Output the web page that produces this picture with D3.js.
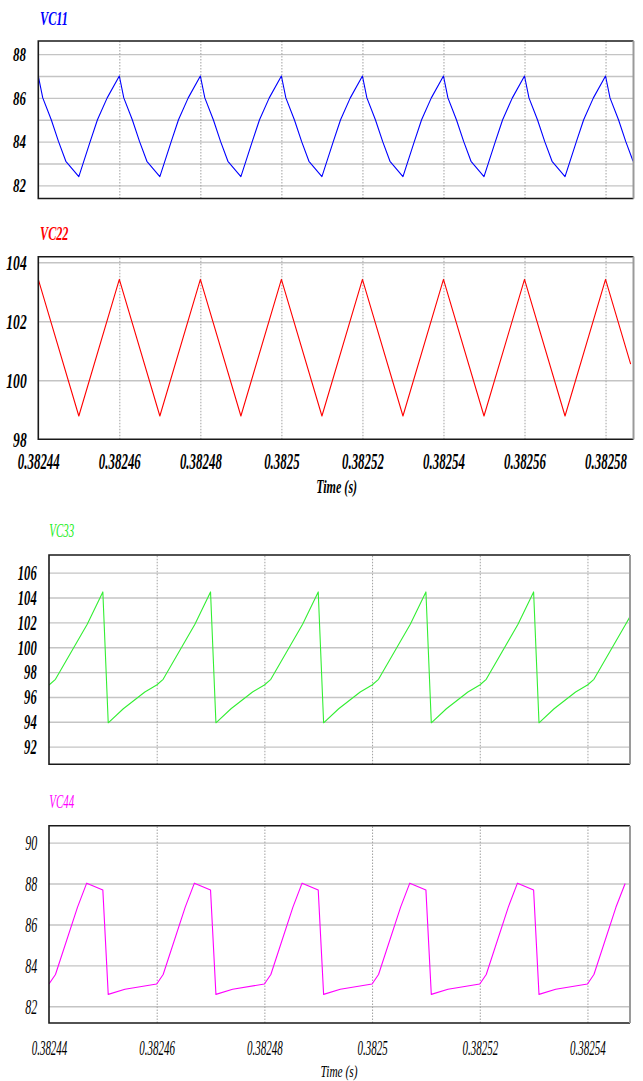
<!DOCTYPE html>
<html>
<head>
<meta charset="utf-8">
<script src="https://cdn.jsdelivr.net/npm/d3@7"></script>
<style>
  html, body { margin: 0; padding: 0; background: #fff; }
  svg { display: block; }
</style>
</head>
<body>
<svg id="chart" width="643" height="1081"></svg>
<script>
// ---------- time axis ticks ----------
const timeTicksUpper = [0.38244, 0.38246, 0.38248, 0.38250, 0.38252, 0.38254, 0.38256, 0.38258];
const timeTicksLower = [0.38244, 0.38246, 0.38248, 0.38250, 0.38252, 0.38254];
const timeRangeUpper = [0.38244, 0.3825869];
const timeRangeLower = [0.38244, 0.3825479];

// ---------- VC11 ----------
const vc11Time = [
  0.3824400, 0.3824411, 0.3824432, 0.3824450, 0.3824468, 0.3824500, 0.3824528, 0.3824546, 0.3824570,
  0.3824600, 0.3824611, 0.3824632, 0.3824650, 0.3824668, 0.3824700, 0.3824728, 0.3824746, 0.3824770,
  0.3824800, 0.3824811, 0.3824832, 0.3824850, 0.3824868, 0.3824900, 0.3824928, 0.3824946, 0.3824970,
  0.3825000, 0.3825011, 0.3825032, 0.3825050, 0.3825068, 0.3825100, 0.3825128, 0.3825146, 0.3825170,
  0.3825200, 0.3825211, 0.3825232, 0.3825250, 0.3825268, 0.3825300, 0.3825328, 0.3825346, 0.3825370,
  0.3825400, 0.3825411, 0.3825432, 0.3825450, 0.3825468, 0.3825500, 0.3825528, 0.3825546, 0.3825570,
  0.3825600, 0.3825611, 0.3825632, 0.3825650, 0.3825668, 0.3825700, 0.3825728, 0.3825746, 0.3825770,
  0.3825800, 0.3825811, 0.3825832, 0.3825850, 0.3825868
];
const vc11Value = [
  87.0, 86.0, 85.0, 84.0, 83.1, 82.4, 84.0, 85.0, 86.0,
  87.0, 86.0, 85.0, 84.0, 83.1, 82.4, 84.0, 85.0, 86.0,
  87.0, 86.0, 85.0, 84.0, 83.1, 82.4, 84.0, 85.0, 86.0,
  87.0, 86.0, 85.0, 84.0, 83.1, 82.4, 84.0, 85.0, 86.0,
  87.0, 86.0, 85.0, 84.0, 83.1, 82.4, 84.0, 85.0, 86.0,
  87.0, 86.0, 85.0, 84.0, 83.1, 82.4, 84.0, 85.0, 86.0,
  87.0, 86.0, 85.0, 84.0, 83.1, 82.4, 84.0, 85.0, 86.0,
  87.0, 86.0, 85.0, 84.0, 83.1
];

// ---------- VC22 ----------
const vc22Time = [
  0.38244, 0.38245, 0.38246, 0.38247, 0.38248, 0.38249, 0.38250, 0.38251,
  0.38252, 0.38253, 0.38254, 0.38255, 0.38256, 0.38257, 0.38258, 0.3825862
];
const vc22Value = [
  103.42, 98.79, 103.42, 98.79, 103.42, 98.79, 103.42, 98.79,
  103.42, 98.79, 103.42, 98.79, 103.42, 98.79, 103.42, 100.55
];

// ---------- VC33 ----------
const vc33Time = [
  0.3824400, 0.3824412, 0.3824471, 0.3824500, 0.3824510, 0.3824538, 0.3824578,
  0.3824600, 0.3824612, 0.3824671, 0.3824700, 0.3824710, 0.3824738, 0.3824778,
  0.3824800, 0.3824812, 0.3824871, 0.3824900, 0.3824910, 0.3824938, 0.3824978,
  0.3825000, 0.3825012, 0.3825071, 0.3825100, 0.3825110, 0.3825138, 0.3825178,
  0.3825200, 0.3825212, 0.3825271, 0.3825300, 0.3825310, 0.3825338, 0.3825378,
  0.3825400, 0.3825412, 0.3825471, 0.3825478
];
const vc33Value = [
  96.96, 97.42, 101.85, 104.45, 93.92, 95.05, 96.40,
  96.96, 97.42, 101.85, 104.45, 93.92, 95.05, 96.40,
  96.96, 97.42, 101.85, 104.45, 93.92, 95.05, 96.40,
  96.96, 97.42, 101.85, 104.45, 93.92, 95.05, 96.40,
  96.96, 97.42, 101.85, 104.45, 93.92, 95.05, 96.40,
  96.96, 97.42, 101.85, 102.38
];

// ---------- VC44 ----------
const vc44Time = [
  0.3824400, 0.3824412, 0.3824453, 0.3824470, 0.3824500, 0.3824510, 0.3824541,
  0.3824600, 0.3824612, 0.3824653, 0.3824670, 0.3824700, 0.3824710, 0.3824741,
  0.3824800, 0.3824812, 0.3824853, 0.3824870, 0.3824900, 0.3824910, 0.3824941,
  0.3825000, 0.3825012, 0.3825053, 0.3825070, 0.3825100, 0.3825110, 0.3825141,
  0.3825200, 0.3825212, 0.3825253, 0.3825270, 0.3825300, 0.3825310, 0.3825341,
  0.3825400, 0.3825412, 0.3825453, 0.3825470
];
const vc44Value = [
  83.09, 83.55, 86.85, 88.02, 87.68, 82.58, 82.83,
  83.09, 83.55, 86.85, 88.02, 87.68, 82.58, 82.83,
  83.09, 83.55, 86.85, 88.02, 87.68, 82.58, 82.83,
  83.09, 83.55, 86.85, 88.02, 87.68, 82.58, 82.83,
  83.09, 83.55, 86.85, 88.02, 87.68, 82.58, 82.83,
  83.09, 83.55, 86.85, 88.00
];

// ---------- value axis ticks ----------
const vc11Grid = [82, 83, 84, 85, 86, 87, 88];
const vc11Labels = [82, 84, 86, 88];
const vc22Grid = [100, 102, 104];
const vc22Labels = [98, 100, 102, 104];
const vc33Grid = [92, 94, 96, 98, 100, 102, 104, 106];
const vc33Labels = [92, 94, 96, 98, 100, 102, 104, 106];
const vc44Grid = [82, 84, 86, 88, 90];
const vc44Labels = [82, 84, 86, 88, 90];

// ---------- drawing ----------
const svg = d3.select("#chart");
const SERIF = '"Liberation Serif", "Times New Roman", serif';
const fmtTime = d => String(+d.toFixed(5));

function styleText(sel, f) {
  sel.attr("font-family", SERIF)
     .attr("font-size", f.size)
     .attr("font-weight", f.weight || "normal")
     .attr("font-style", "italic")
     .attr("fill", f.color || "#000");
}

// Condensed text: scaled horizontally about its anchor point
function addText(x, y, str, f, anchor) {
  const t = svg.append("text")
    .attr("transform", `translate(${x},${y}) scale(${f.sx},1)`)
    .attr("text-anchor", anchor || "start")
    .text(str);
  styleText(t, f);
  return t;
}

function panel(cfg) {
  const g = svg.append("g");
  const x = d3.scaleLinear().domain(cfg.xDomain).range([cfg.left, cfg.right]);
  const y = d3.scaleLinear().domain(cfg.yDomain).range([cfg.bottom, cfg.top]);

  // horizontal grid
  const hg = g.append("g")
    .attr("transform", `translate(${cfg.left},0)`)
    .call(d3.axisLeft(y).tickValues(cfg.yGrid).tickSize(-(cfg.right - cfg.left)).tickFormat(""));
  hg.select(".domain").remove();
  hg.selectAll("line").attr("stroke", "#c4c4c4").attr("stroke-width", 1.4);

  // vertical dotted grid
  const vg = g.append("g")
    .attr("transform", `translate(0,${cfg.bottom})`)
    .call(d3.axisBottom(x).tickValues(cfg.xGrid).tickSize(-(cfg.bottom - cfg.top)).tickFormat(""));
  vg.select(".domain").remove();
  vg.selectAll("line").attr("stroke", "#a0a0a0").attr("stroke-width", 1)
    .attr("stroke-dasharray", "1.5,1.5");

  // waveform
  const clipId = "clip" + cfg.id;
  g.append("clipPath").attr("id", clipId).append("rect")
    .attr("x", cfg.left).attr("y", cfg.top)
    .attr("width", cfg.right - cfg.left).attr("height", cfg.bottom - cfg.top);
  const line = d3.line().x(d => x(d[0])).y(d => y(d[1]));
  g.append("path")
    .attr("clip-path", `url(#${clipId})`)
    .attr("d", line(d3.zip(cfg.time, cfg.value)))
    .attr("fill", "none")
    .attr("stroke", cfg.color)
    .attr("stroke-width", 1.1)
    .attr("stroke-linejoin", "round");

  // frame
  g.append("path")
    .attr("d", `M${cfg.right},${cfg.top}H${cfg.left}V${cfg.bottom}H${cfg.right}`)
    .attr("fill", "none").attr("stroke", "#1a1a1a").attr("stroke-width", 1.6);
  g.append("line")
    .attr("x1", cfg.right).attr("x2", cfg.right)
    .attr("y1", cfg.top).attr("y2", cfg.bottom)
    .attr("stroke", "#9a9a9a").attr("stroke-width", 2);

  // value labels
  const ya = g.append("g")
    .attr("transform", `translate(${cfg.yLabelRight},0)`)
    .call(d3.axisLeft(y).tickValues(cfg.yLabels).tickSize(0).tickPadding(0).tickFormat(d3.format("d")));
  ya.select(".domain").remove();
  ya.selectAll("text")
    .attr("dy", "0.34em")
    .attr("transform", `scale(${cfg.yFont.sx},1)`)
    .call(styleText, cfg.yFont);

  // time labels
  if (cfg.xLabels) {
    const xa = g.append("g")
      .attr("transform", `translate(0,${cfg.xLabelBase})`)
      .call(d3.axisBottom(x).tickValues(cfg.xLabels).tickSize(0).tickPadding(0).tickFormat(fmtTime));
    xa.select(".domain").remove();
    xa.selectAll("text")
      .attr("y", 0).attr("dy", 0)
      .attr("transform", `scale(${cfg.xFont.sx},1)`)
      .call(styleText, cfg.xFont);
    addText(cfg.timeTitle.x, cfg.timeTitle.y, "Time (s)", cfg.timeTitle.font, "middle");
  }

  // series title
  addText(cfg.title.x, cfg.title.y, cfg.name, cfg.title.font, "start");
}

panel({
  id: 1, name: "VC11", color: "#0000ff",
  time: vc11Time, value: vc11Value,
  left: 38.3, right: 633.5, top: 41, bottom: 198.5,
  xDomain: timeRangeUpper, yDomain: [81.4, 88.6],
  xGrid: timeTicksUpper.slice(1), yGrid: vc11Grid, yLabels: vc11Labels,
  yLabelRight: 26, yFont: { size: 18.5, weight: "bold", sx: 0.7 },
  title: { x: 40, y: 25, font: { size: 19.5, weight: "bold", sx: 0.63, color: "#0000ff" } }
});

panel({
  id: 2, name: "VC22", color: "#ff0000",
  time: vc22Time, value: vc22Value,
  left: 38.3, right: 633.5, top: 256.7, bottom: 439.3,
  xDomain: timeRangeUpper, yDomain: [98, 104.19],
  xGrid: timeTicksUpper.slice(1), yGrid: vc22Grid, yLabels: vc22Labels,
  yLabelRight: 26.7, yFont: { size: 20, weight: "bold", sx: 0.68 },
  xLabels: timeTicksUpper, xLabelBase: 469.3, xFont: { size: 23.5, weight: "bold", sx: 0.55 },
  timeTitle: { x: 336.7, y: 493, font: { size: 19.5, weight: "bold", sx: 0.62 } },
  title: { x: 40, y: 240, font: { size: 18.5, weight: "bold", sx: 0.66, color: "#ff0000" } }
});

panel({
  id: 3, name: "VC33", color: "#33ee33",
  time: vc33Time, value: vc33Value,
  left: 49, right: 630, top: 555, bottom: 764.3,
  xDomain: timeRangeLower, yDomain: [90.58, 107.42],
  xGrid: timeTicksLower.slice(1), yGrid: vc33Grid, yLabels: vc33Labels,
  yLabelRight: 36.7, yFont: { size: 20, weight: "bold", sx: 0.63 },
  title: { x: 49.3, y: 536.7, font: { size: 19.5, weight: "normal", sx: 0.56, color: "#22ee22" } }
});

panel({
  id: 4, name: "VC44", color: "#ff00ff",
  time: vc44Time, value: vc44Value,
  left: 49, right: 630, top: 825.7, bottom: 1023,
  xDomain: timeRangeLower, yDomain: [81.18, 90.83],
  xGrid: timeTicksLower.slice(1), yGrid: vc44Grid, yLabels: vc44Labels,
  yLabelRight: 37.3, yFont: { size: 20, weight: "normal", sx: 0.6 },
  xLabels: timeTicksLower, xLabelBase: 1055, xFont: { size: 20, weight: "normal", sx: 0.55 },
  timeTitle: { x: 339, y: 1077, font: { size: 17.5, weight: "normal", sx: 0.65 } },
  title: { x: 49.3, y: 808, font: { size: 19.5, weight: "normal", sx: 0.56, color: "#ff00ff" } }
});
</script>
</body>
</html>
